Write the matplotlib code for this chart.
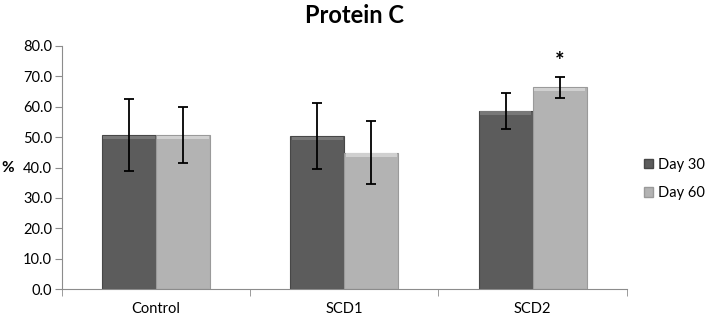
import numpy as np
import matplotlib
matplotlib.use("Agg")
import matplotlib.pyplot as plt
from matplotlib.patches import Patch

plt.rcParams['font.family'] = ['Lato', 'DejaVu Sans']

categories = ["Control", "SCD1", "SCD2"]
day30 = [50.6, 50.3, 58.6]
day30_err = [11.8, 10.8, 5.8]
day60 = [50.6, 44.9, 66.4]
day60_err = [9.2, 10.3, 3.5]
yticks = [0, 10, 20, 30, 40, 50, 60, 70, 80]

dark = "#5c5c5c"
light = "#b3b3b3"
axis_col = "#8c8c8c"

fig = plt.figure(figsize=(7.09, 3.15), dpi=100)
ax = fig.add_axes([0.0874, 0.0825, 0.7966, 0.7715])

x = np.arange(len(categories))
w = 0.287

def bevel_bars(xs, vals, color, top, edge):
    ax.bar(xs, vals, w, color=color, edgecolor=edge, linewidth=0.8, zorder=2)
    # lighter top strip for the excel-ish bevel look
    ax.bar(xs, [1.2] * len(vals), w * 0.95, bottom=np.array(vals) - 1.3,
           color=top, linewidth=0, zorder=3)

bevel_bars(x - w / 2, day30, dark, "#787878", "#474747")
bevel_bars(x + w / 2, day60, light, "#d0d0d0", "#9a9a9a")

ax.errorbar(x - w / 2, day30, yerr=day30_err, fmt="none", ecolor="black",
            elinewidth=1.3, capsize=3.5, capthick=1.3, zorder=4)
ax.errorbar(x + w / 2, day60, yerr=day60_err, fmt="none", ecolor="black",
            elinewidth=1.3, capsize=3.5, capthick=1.3, zorder=4)

# significance mark
ax.text(x[2] + w / 2, day60[2] + day60_err[2] + 1.5, "*", ha="center",
        va="bottom", fontsize=16, fontweight="bold")

ax.set_xlim(-0.5, len(categories) - 0.5)
ax.set_ylim(0, 80)
ax.set_yticks(yticks)
ax.set_yticklabels(["%.1f" % v for v in yticks], fontsize=10.5)
ax.set_xticks(x)
ax.set_xticklabels(categories, fontsize=10.5)
ax.set_xticks(np.arange(-0.5, len(categories)), minor=True)
ax.tick_params(axis="x", which="major", length=0, pad=9)
ax.tick_params(axis="x", which="minor", length=5, color=axis_col)
ax.tick_params(axis="y", length=5, color=axis_col, pad=2)

for s in ["top", "right"]:
    ax.spines[s].set_visible(False)
for s in ["left", "bottom"]:
    ax.spines[s].set_color(axis_col)

ax.set_ylabel("%", rotation=0, fontsize=11, fontweight="bold", va="center")
ax.yaxis.set_label_coords(-0.096, 0.5)

fig.text(0.5, 0.95, "Protein C", ha="center", va="center", fontsize=17,
         fontweight="bold")

handles = [Patch(facecolor=dark, edgecolor="#474747"),
           Patch(facecolor=light, edgecolor="#9a9a9a")]
fig.legend(handles, ["Day 30", "Day 60"], loc="center left",
           bbox_to_anchor=(0.908, 0.432), frameon=False, fontsize=10.5,
           handlelength=0.65, handleheight=0.65, handletextpad=0.35,
           labelspacing=1.0, borderpad=0, borderaxespad=0)

fig.savefig("out.png", dpi=100)
